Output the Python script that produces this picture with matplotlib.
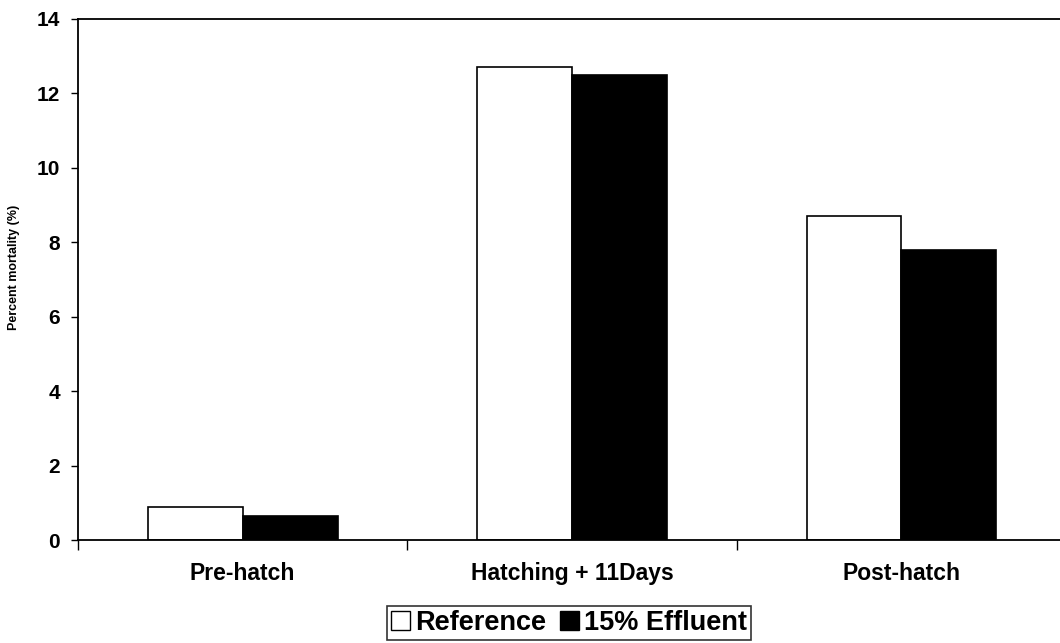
import numpy as np
import matplotlib.pyplot as plt
from matplotlib.patches import Patch

plt.rcParams['font.family'] = ['Liberation Sans', 'DejaVu Sans']
plt.rcParams['font.weight'] = 'bold'

# mortality per stage
stages = ["Pre-hatch", "Hatching + 11Days", "Post-hatch"]
reference = [0.9, 12.7, 8.7]
effluent = [0.65, 12.5, 7.8]

fig = plt.figure(figsize=(10.6, 6.43), dpi=100)
ax = fig.add_axes([0.0736, 0.160, 0.9321, 0.8105])

x = np.arange(len(stages))
width = 0.288
ax.bar(x - width / 2, reference, width, color="white", edgecolor="black", linewidth=1.2)
ax.bar(x + width / 2, effluent, width, color="black", edgecolor="black", linewidth=1.2)

ax.set_xlim(-0.5, 2.5)
ax.set_ylim(0, 14)
ax.set_yticks(np.arange(0, 15, 2))
ax.tick_params(axis="y", labelsize=15, length=5, width=1, direction="out", pad=8)

# category names sit between the boundary ticks
ax.set_xticks([-0.5, 0.5, 1.5, 2.5])
ax.set_xticklabels([])
ax.tick_params(axis="x", length=7, width=1, direction="out")
ax.set_xticks(x, minor=True)
ax.set_xticklabels(stages, minor=True, fontsize=16.5, fontweight="bold")
ax.tick_params(axis="x", which="minor", length=0, pad=16)

for s in ax.spines.values():
    s.set_linewidth(1.3)

fig.text(0.013, 0.584, "Percent mortality (%)", rotation=90, fontsize=9,
         fontweight="bold", ha="center", va="center")

handles = [Patch(facecolor="white", edgecolor="black", label="Reference"),
           Patch(facecolor="black", edgecolor="black", label="15% Effluent")]
leg = fig.legend(handles=handles, loc="center", bbox_to_anchor=(0.537, 0.031), ncol=2,
                 fontsize=19.5, frameon=True, fancybox=False, edgecolor="black",
                 handlelength=0.7, handleheight=0.7, handletextpad=0.2,
                 columnspacing=0.5, borderpad=0.15, borderaxespad=0)
leg.get_frame().set_linewidth(1.2)

fig.savefig("out.png", dpi=100)
